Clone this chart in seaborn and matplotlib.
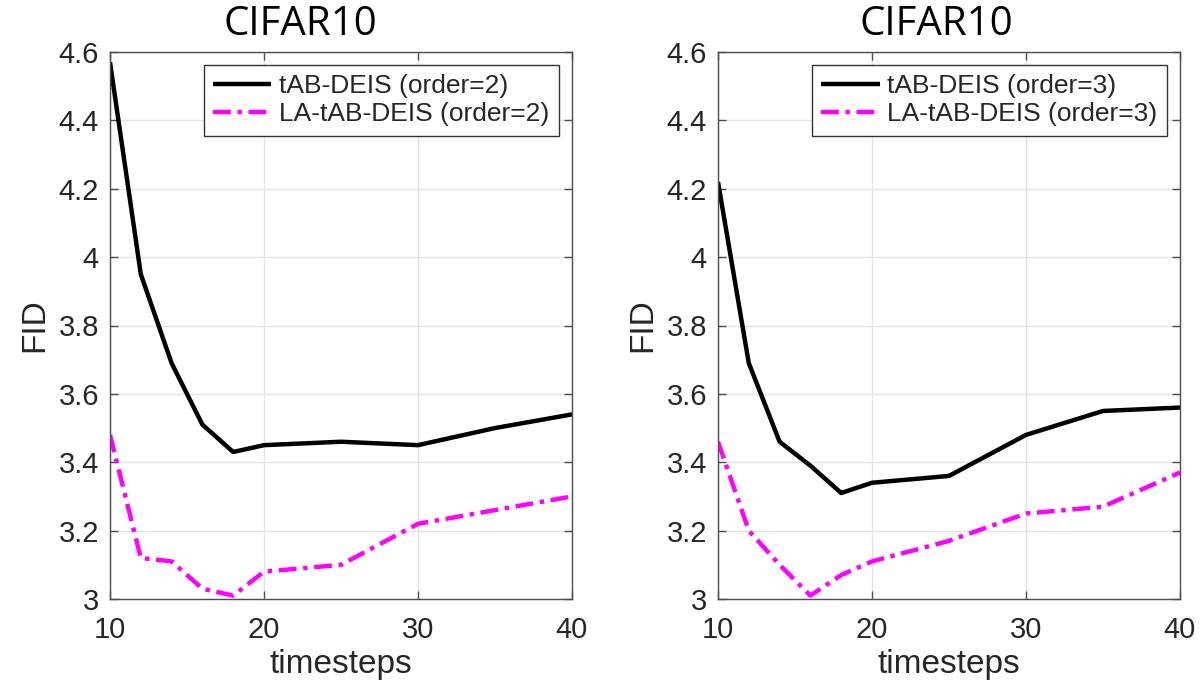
import matplotlib
matplotlib.use("Agg")
import matplotlib.pyplot as plt
import seaborn as sns
import pandas as pd

# Data
timesteps = [10, 12, 14, 16, 18, 20, 25, 30, 35, 40]

tab_order2 = [4.57, 3.95, 3.69, 3.51, 3.43, 3.45, 3.46, 3.45, 3.50, 3.54]
la_tab_order2 = [3.48, 3.12, 3.11, 3.03, 3.01, 3.08, 3.10, 3.22, 3.26, 3.30]

tab_order3 = [4.22, 3.69, 3.46, 3.39, 3.31, 3.34, 3.36, 3.48, 3.55, 3.56]
la_tab_order3 = [3.46, 3.20, 3.10, 3.01, 3.07, 3.11, 3.17, 3.25, 3.27, 3.37]

panels = [
    ("CIFAR10", "order=2", tab_order2, la_tab_order2),
    ("CIFAR10", "order=3", tab_order3, la_tab_order3),
]

yticks = [3, 3.2, 3.4, 3.6, 3.8, 4, 4.2, 4.4, 4.6]
xticks = [10, 20, 30, 40]

sns.set_theme(style="white")
plt.rcParams["font.family"] = ["Liberation Sans", "DejaVu Sans"]

fig = plt.figure(figsize=(12, 6.91), dpi=100)
positions = [
    [110 / 1200, 92 / 691, 462 / 1200, 547 / 691],
    [718 / 1200, 92 / 691, 462 / 1200, 547 / 691],
]
# title centres (axes fraction), the titles sit a bit left of centre
title_x = [0.413, 0.472]

text_color = "#262626"

for pos, tx, (title, order, black_vals, pink_vals) in zip(positions, title_x, panels):
    ax = fig.add_axes(pos)

    df = pd.DataFrame({
        "timesteps": timesteps + timesteps,
        "FID": black_vals + pink_vals,
        "method": [f"tAB-DEIS ({order})"] * len(timesteps)
        + [f"LA-tAB-DEIS ({order})"] * len(timesteps),
    })

    # solid black vs magenta dash-dot
    sns.lineplot(
        data=df, x="timesteps", y="FID", hue="method", style="method",
        palette=["black", "#ff00ff"],
        dashes=[(1, 0), (4, 1.5, 1, 1.5)],
        linewidth=3.2, ax=ax, sort=False,
    )

    ax.set_xlim(10, 40)
    ax.set_ylim(3, 4.6)
    ax.set_xticks(xticks)
    ax.set_yticks(yticks)
    ax.set_yticklabels([f"{v:g}" for v in yticks])
    ax.grid(True, color="#e3e3e3", linewidth=1)
    ax.tick_params(direction="in", length=6, width=1, colors="#4d4d4d",
                   labelcolor=text_color, labelsize=21, top=True, right=True,
                   bottom=True, left=True)
    ax.tick_params(axis="x", pad=12)
    ax.tick_params(axis="y", pad=8)
    for spine in ax.spines.values():
        spine.set_color("#4d4d4d")
        spine.set_linewidth(1)

    ax.set_xlabel("timesteps", fontsize=24, color=text_color, labelpad=4)
    ax.set_ylabel("FID", fontsize=24, color=text_color, labelpad=6)
    ax.text(tx, 1.049, title, transform=ax.transAxes, ha="center", va="center",
            fontsize=29, family="Open Sans", color="black")

    leg = ax.legend(loc="upper right", fontsize=19, frameon=True, fancybox=False,
                    handlelength=2.2, borderaxespad=0.5, handletextpad=0.3,
                    labelspacing=0.15, borderpad=0.35)
    leg.get_frame().set_edgecolor("#333333")
    leg.get_frame().set_linewidth(1)
    leg.get_frame().set_alpha(1)

fig.savefig("out.png", dpi=100)
